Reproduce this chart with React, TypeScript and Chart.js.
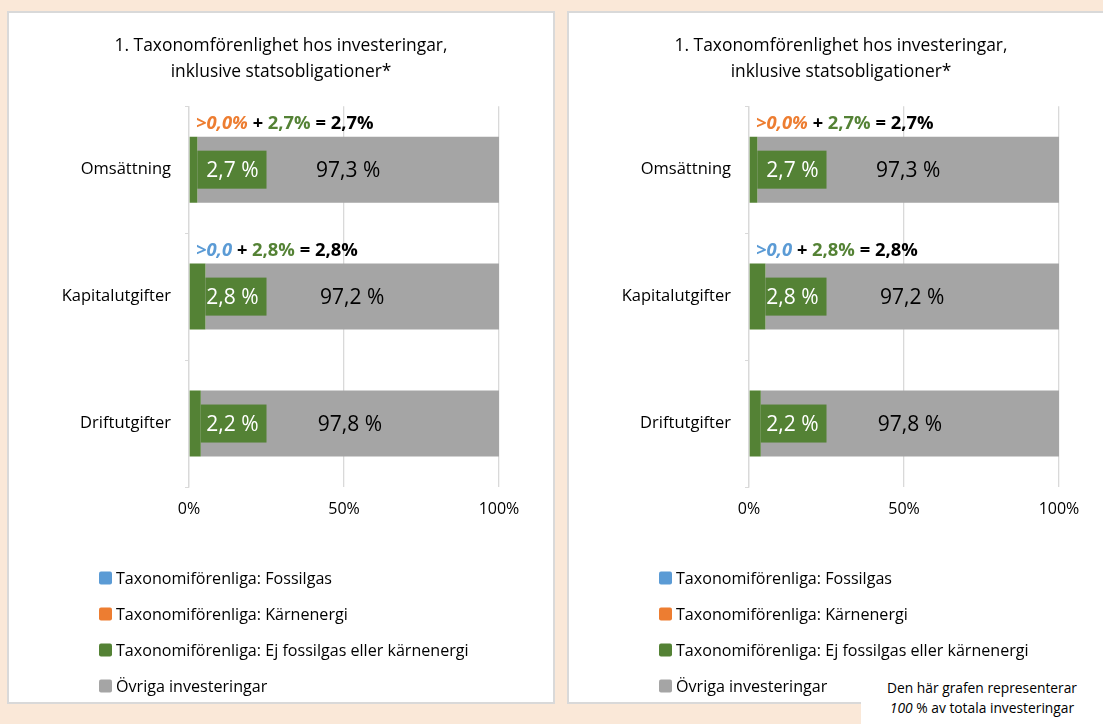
import React, { useEffect, useRef } from "react";
import { Chart, registerables } from "chart.js";

Chart.register(...registerables);

// ---------- data ----------
const titleLines = ["1. Taxonomförenlighet hos investeringar,", "inklusive statsobligationer*"];
const categories = ["Omsättning", "Kapitalutgifter", "Driftutgifter"];
const seriesNames = [
  "Taxonomiförenliga: Fossilgas",
  "Taxonomiförenliga: Kärnenergi",
  "Taxonomiförenliga: Ej fossilgas eller kärnenergi",
  "Övriga investeringar",
];
const fossilgasValues = [0, 0, 0];
const karnenergiValues = [0, 0, 0];
const ejFossilValues = [2.7, 5.3, 3.8];
const ovrigaValues = [97.3, 94.7, 96.2];
const ejFossilLabels = ["2,7 %", "2,8 %", "2,2 %"];
const ovrigaLabels = ["97,3 %", "97,2 %", "97,8 %"];
const xTicks = [0, 50, 100];
const xTickLabels = ["0%", "50%", "100%"];
// summary line above bars: lead value, series index of lead colour, green value, total
const summaryLead = [">0,0%", ">0,0", ""];
const summaryLeadSeries = [1, 0, -1];
const summaryGreen = ["2,7%", "2,8%", ""];
const summaryTotal = ["2,7%", "2,8%", ""];
const noteLine1 = "Den här grafen representerar";
const noteLine2Italic = "100";
const noteLine2Rest = " % av totala investeringar";

// ---------- styles ----------
const COLORS = ["#5B9BD5", "#ED7D31", "#548235", "#A5A5A5"];
const FONT = "'Open Sans', 'Noto Sans', sans-serif";
const PEACH = "#FAE8D8";
const BORDER = "#D9D9D9";

const overlayPlugin = {
  id: "overlay",
  afterDatasetsDraw(chart: any) {
    const ctx = chart.ctx as CanvasRenderingContext2D;
    const xs = chart.scales.x;
    const greenMeta = chart.getDatasetMeta(2).data;
    const grayMeta = chart.getDatasetMeta(3).data;
    ctx.save();
    categories.forEach((_, i) => {
      const g = greenMeta[i].getProps(["x", "y", "base", "height"], true);
      const r = grayMeta[i].getProps(["x", "y", "base", "height"], true);
      // green label box
      const boxRight = xs.getPixelForValue(25);
      ctx.fillStyle = COLORS[2];
      ctx.fillRect(g.x, g.y - 19, boxRight - g.x, 38);
      ctx.fillStyle = "#FFFFFF";
      ctx.font = `21px ${FONT}`;
      ctx.textAlign = "center";
      ctx.textBaseline = "middle";
      ctx.fillText(ejFossilLabels[i], xs.getPixelForValue(14), g.y + 1);
      // gray label
      ctx.fillStyle = "#000000";
      ctx.fillText(ovrigaLabels[i], (r.base + r.x) / 2, r.y + 1);
      // summary line
      if (summaryLead[i]) {
        let cx = xs.getPixelForValue(0) + 7;
        const cy = g.y - g.height / 2 - 13;
        ctx.textAlign = "left";
        const f = 18.4;
        const parts: [string, string, string][] = [
          [summaryLead[i], COLORS[summaryLeadSeries[i]], `italic bold ${f}px ${FONT}`],
          [" + ", "#000000", `italic bold ${f}px ${FONT}`],
          [summaryGreen[i], COLORS[2], `bold ${f}px ${FONT}`],
          [" = ", "#000000", `bold ${f}px ${FONT}`],
          [summaryTotal[i], "#000000", `bold ${f}px ${FONT}`],
        ];
        parts.forEach(([t, c, fnt]) => {
          ctx.font = fnt;
          ctx.fillStyle = c;
          ctx.fillText(t, cx, cy);
          cx += ctx.measureText(t).width;
        });
      }
    });
    ctx.restore();
  },
  afterDraw(chart: any) {
    const ctx = chart.ctx as CanvasRenderingContext2D;
    ctx.save();
    ctx.font = `16.1px ${FONT}`;
    ctx.textBaseline = "middle";
    ctx.textAlign = "left";
    chart.data.datasets.forEach((ds: any, i: number) => {
      const cy = 565 + i * 36;
      ctx.fillStyle = ds.backgroundColor;
      ctx.beginPath();
      (ctx as any).roundRect(90, cy - 6.5, 13, 13, 2);
      ctx.fill();
      ctx.fillStyle = "#000000";
      ctx.fillText(ds.label, 107, cy + 1);
    });
    ctx.restore();
  },
};

function ChartPanel() {
  const ref = useRef<HTMLCanvasElement | null>(null);
  useEffect(() => {
    if (!ref.current) return;
    const values = [fossilgasValues, karnenergiValues, ejFossilValues, ovrigaValues];
    const chart = new Chart(ref.current, {
      type: "bar",
      data: {
        labels: categories,
        datasets: seriesNames.map((name, i) => ({
          label: name,
          data: values[i],
          backgroundColor: COLORS[i],
          borderWidth: 0,
          barPercentage: 0.52,
          categoryPercentage: 1,
        })),
      },
      options: {
        indexAxis: "y",
        responsive: false,
        animation: false,
        devicePixelRatio: 1,
        layout: { padding: { left: 54, right: 54, top: 0, bottom: 155 } },
        plugins: {
          legend: { display: false },
          tooltip: { enabled: false },
          title: {
            display: true,
            text: titleLines,
            color: "#000000",
            font: { family: FONT, size: 17.4, weight: "normal", lineHeight: 1.5 },
            padding: { top: 20, bottom: 21 },
          },
        },
        scales: {
          x: {
            stacked: true,
            min: 0,
            max: 100,
            afterBuildTicks: (s: any) => {
              s.ticks = xTicks.map((v) => ({ value: v }));
            },
            afterFit: (s: any) => {
              s.height = 60;
            },
            ticks: {
              color: "#000000",
              font: { family: FONT, size: 16 },
              padding: 13,
              callback: (v: any) => xTickLabels[xTicks.indexOf(Number(v))],
            },
            grid: { color: BORDER, lineWidth: 1.3, drawTicks: false },
            border: { display: false },
          },
          y: {
            stacked: true,
            afterFit: (s: any) => {
              s.width = 126;
            },
            ticks: {
              color: "#000000",
              font: { family: FONT, size: 16.5 },
              padding: 14,
            },
            grid: { drawOnChartArea: false, drawTicks: true, tickLength: 4, color: BORDER, offset: true },
            border: { display: true, color: BORDER, width: 1.3 },
          },
        },
      },
      plugins: [overlayPlugin],
    } as any);
    return () => chart.destroy();
  }, []);
  return <canvas ref={ref} width={544} height={689} style={{ display: "block" }} />;
}

export default function App() {
  useEffect(() => {
    document.body.style.margin = "0";
  }, []);
  const panel = (left: number) => ({
    position: "absolute" as const,
    left,
    top: 11,
    width: 544,
    height: 689,
    background: "#FFFFFF",
    border: `2px solid ${BORDER}`,
  });
  return (
    <div
      style={{
        position: "absolute",
        left: 0,
        top: 0,
        width: 1103,
        height: 724,
        overflow: "hidden",
        background: PEACH,
      }}
    >
      <div style={panel(7)}>
        <ChartPanel />
      </div>
      <div style={panel(567)}>
        <ChartPanel />
      </div>
      <div
        style={{
          position: "absolute",
          left: 861,
          top: 672,
          width: 242,
          height: 52,
          background: "#FFFFFF",
          fontFamily: FONT,
          fontSize: 13.8,
          color: "#000000",
          textAlign: "center",
          lineHeight: "20px",
          paddingTop: 6,
          boxSizing: "border-box",
        }}
      >
        <div>{noteLine1}</div>
        <div>
          <i>{noteLine2Italic}</i>
          {noteLine2Rest}
        </div>
      </div>
    </div>
  );
}
